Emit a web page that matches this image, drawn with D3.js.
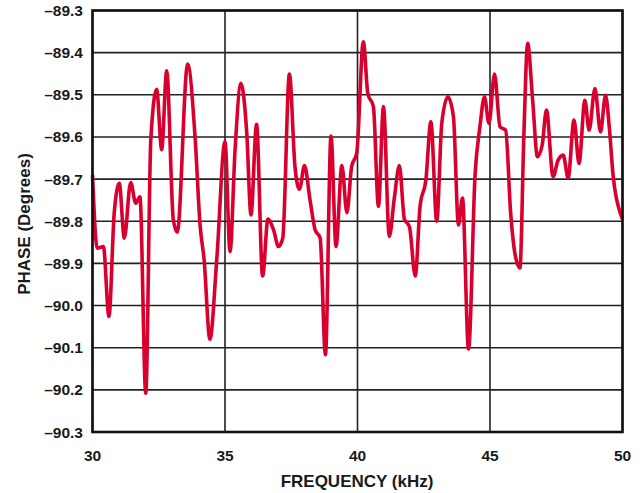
<!DOCTYPE html>
<html><head><meta charset="utf-8">
<script src="https://cdn.jsdelivr.net/npm/d3@7"></script>
<style>body{margin:0;background:#fff}svg text{font-family:"Liberation Sans",Arial,sans-serif;font-weight:bold;fill:#1a1a1a}</style>
</head><body>
<svg id="c" width="641" height="493"></svg>
<script>
const freq = [30.0,30.18,30.41,30.62,30.82,31.01,31.2,31.44,31.63,31.79,32.01,32.2,32.42,32.61,32.8,33.05,33.2,33.59,33.87,34.06,34.21,34.43,34.69,35.0,35.19,35.38,35.6,35.82,35.98,36.19,36.42,36.62,36.83,37.02,37.18,37.43,37.64,37.81,38.0,38.21,38.4,38.59,38.79,39.0,39.19,39.41,39.6,39.78,39.97,40.22,40.39,40.6,40.79,40.98,41.2,41.39,41.58,41.77,41.96,42.18,42.36,42.58,42.77,42.99,43.18,43.41,43.62,43.81,43.96,44.19,44.44,44.62,44.79,44.96,45.17,45.38,45.59,45.78,45.94,46.13,46.28,46.42,46.61,46.79,46.97,47.13,47.38,47.57,47.76,47.95,48.17,48.36,48.58,48.74,48.96,49.17,49.36,49.5,49.65,49.97,50.0];
const phase = [-89.69,-89.864,-89.86,-90.026,-89.78,-89.71,-89.84,-89.708,-89.757,-89.742,-90.208,-89.607,-89.487,-89.63,-89.443,-89.797,-89.826,-89.427,-89.6,-89.81,-89.89,-90.08,-89.89,-89.611,-89.872,-89.63,-89.473,-89.59,-89.785,-89.57,-89.93,-89.795,-89.82,-89.86,-89.84,-89.451,-89.67,-89.724,-89.668,-89.75,-89.82,-89.84,-90.117,-89.598,-89.86,-89.668,-89.78,-89.67,-89.639,-89.374,-89.497,-89.528,-89.765,-89.528,-89.836,-89.745,-89.668,-89.795,-89.813,-89.93,-89.765,-89.702,-89.564,-89.8,-89.568,-89.505,-89.552,-89.809,-89.745,-90.103,-89.686,-89.576,-89.505,-89.568,-89.451,-89.576,-89.584,-89.781,-89.876,-89.911,-89.591,-89.378,-89.513,-89.647,-89.619,-89.536,-89.694,-89.655,-89.643,-89.697,-89.56,-89.663,-89.513,-89.584,-89.485,-89.588,-89.501,-89.576,-89.694,-89.79,-89.795];
const xTicks = [30,35,40,45,50];
const yTicks = [-89.3,-89.4,-89.5,-89.6,-89.7,-89.8,-89.9,-90.0,-90.1,-90.2,-90.3];

const svg = d3.select("#c");
const L=92.5, R=622.5, T=10.5, B=432;
const x = d3.scaleLinear().domain([30,50]).range([L,R]);
const y = d3.scaleLinear().domain([-90.3,-89.3]).range([B,T]);
const fmt = v => (v<0?"\u2013":"")+Math.abs(v).toFixed(1);

// grid
svg.append("g").selectAll("line").data(yTicks).join("line")
  .attr("x1",L).attr("x2",R).attr("y1",d=>y(d)).attr("y2",d=>y(d))
  .attr("stroke","#222").attr("stroke-width",1.6);
svg.append("g").selectAll("line").data(xTicks).join("line")
  .attr("x1",d=>x(d)).attr("x2",d=>x(d)).attr("y1",T).attr("y2",B)
  .attr("stroke","#222").attr("stroke-width",1.6);

// line
const line = d3.line().x((d,i)=>x(freq[i])).y(d=>y(d)).curve(d3.curveMonotoneX);
svg.append("path").datum(phase).attr("d",line).attr("fill","none")
  .attr("stroke","#d9002f").attr("stroke-width",3.6).attr("stroke-linejoin","round");

// border
svg.append("rect").attr("x",L).attr("y",T).attr("width",R-L).attr("height",B-T)
  .attr("fill","none").attr("stroke","#111").attr("stroke-width",2.6);

// y tick labels
svg.append("g").selectAll("text").data(yTicks).join("text")
  .attr("x",83).attr("y",d=>y(d)+5.5).attr("text-anchor","end")
  .attr("font-size",15.5).text(fmt);
// x tick labels
svg.append("g").selectAll("text").data(xTicks).join("text")
  .attr("x",d=>x(d)).attr("y",461).attr("text-anchor","middle")
  .attr("font-size",15.5).text(d=>d);

svg.append("text").attr("x",357).attr("y",486.5).attr("text-anchor","middle")
  .attr("font-size",17).text("FREQUENCY (kHz)");
svg.append("text").attr("transform","translate(29.5,224) rotate(-90)").attr("text-anchor","middle")
  .attr("font-size",17).text("PHASE (Degrees)");
</script>
</body></html>
